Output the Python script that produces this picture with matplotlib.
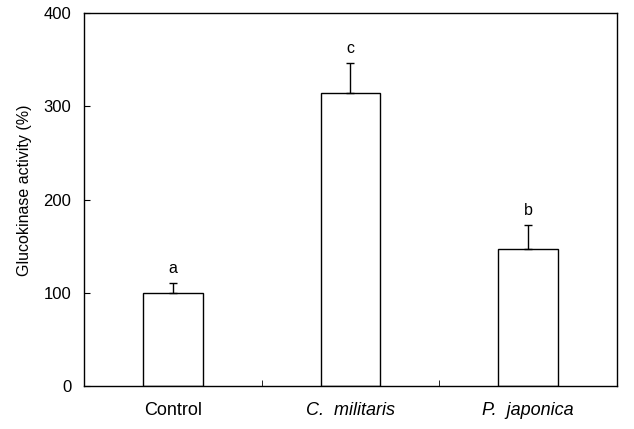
import numpy as np
import matplotlib
matplotlib.use("Agg")
import matplotlib.pyplot as plt

plt.rcParams['font.family'] = ['Liberation Sans', 'DejaVu Sans']

# data
groups = ["Control", "C.  militaris", "P.  japonica"]
italic = [False, True, True]
activity = [100, 314, 147]
sem = [10, 33, 26]
letters = ["a", "c", "b"]

fig = plt.figure(figsize=(6.34, 4.29), dpi=100)
ax = fig.add_axes([84 / 634, 1 - 385.7 / 429, (616.7 - 84) / 634, (385.7 - 13.3) / 429])

x = np.arange(len(groups))
ax.bar(x, activity, width=0.335, color="white", edgecolor="black", linewidth=1.0)
ax.errorbar(x, activity, yerr=[np.zeros(len(sem)), sem], fmt="none",
            ecolor="black", elinewidth=1.0, capsize=3, capthick=1.0)

for xi, v, e, lab in zip(x, activity, sem, letters):
    ax.annotate(lab, (xi, v + e), xytext=(0, 5), textcoords="offset points",
                ha="center", va="bottom", fontsize=11.5)

ax.set_xlim(-0.5, 2.5)
ax.set_ylim(0, 400)
ax.set_yticks([0, 100, 200, 300, 400])
ax.tick_params(axis="y", direction="in", length=4, labelsize=12, pad=9)
ax.set_xticks(x)
ax.set_xticklabels(groups, fontsize=13)
for t, it in zip(ax.get_xticklabels(), italic):
    if it:
        t.set_style("italic")
ax.tick_params(axis="x", length=0, pad=12)
ax.set_xticks([0.5, 1.5], minor=True)
ax.tick_params(axis="x", which="minor", direction="in", length=4)
ax.set_ylabel("Glucokinase activity (%)", fontsize=11.5)
ax.yaxis.set_label_coords(-0.097, 0.525)
for s in ax.spines.values():
    s.set_linewidth(1.0)

fig.savefig("out.png", dpi=100)
